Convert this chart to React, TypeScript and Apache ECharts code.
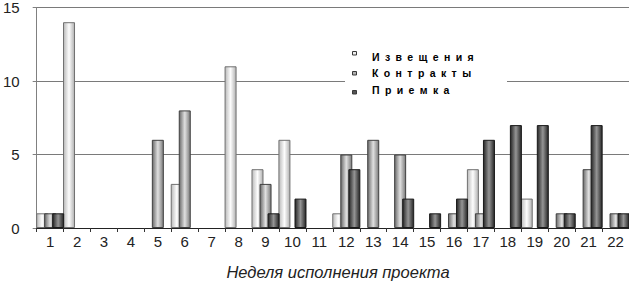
import React, { useEffect, useRef } from 'react';
import * as echarts from 'echarts';

const weeks = ['1','2','3','4','5','6','7','8','9','10','11','12','13','14','15','16','17','18','19','20','21','22'];
const notices = [1, 14, 0, 0, 0, 3, 0, 11, 4, 6, 0, 1, 0, 0, 0, 0, 4, 0, 2, 0, 0, 0];
const contracts = [1, 0, 0, 0, 6, 8, 0, 0, 3, 0, 0, 5, 6, 5, 0, 1, 1, 0, 0, 1, 4, 1];
const acceptance = [1, 0, 0, 0, 0, 0, 0, 0, 1, 2, 0, 4, 0, 2, 1, 2, 6, 7, 7, 1, 7, 1];
const seriesNames = ['Извещения', 'Контракты', 'Приемка'];
const yMin = 0;
const yMax = 15;
const yStep = 5;
const xTitle = 'Неделя исполнения проекта';

const FONT = 'Arial, "Liberation Sans", sans-serif';

function grad(l: string, c: string, r: string) {
  return new echarts.graphic.LinearGradient(0, 0, 1, 0, [
    { offset: 0, color: l },
    { offset: 0.5, color: c },
    { offset: 1, color: r },
  ]);
}

const styles = [
  { fill: () => grad('#bababa', '#fdfdfd', '#b0b0b0'), border: '#707070', swatch: '#eeeeee' },
  { fill: () => grad('#6a6a6a', '#e0e0e0', '#7a7a7a'), border: '#404040', swatch: '#b0b0b0' },
  { fill: () => grad('#262626', '#959595', '#262626'), border: '#1a1a1a', swatch: '#555555' },
];

export default function App() {
  const ref = useRef<HTMLDivElement>(null);

  useEffect(() => {
    if (!ref.current) return;
    const chart = echarts.init(ref.current, undefined, { renderer: 'svg' });
    const dataSets = [notices, contracts, acceptance];
    const legendY = [57, 73.3, 89.5];
    const swatchY = [51.5, 71.5, 90.5];

    chart.setOption({
      animation: false,
      backgroundColor: '#ffffff',
      grid: { left: 34, right: 0, top: 7, bottom: 54, containLabel: false },
      xAxis: {
        type: 'category',
        data: weeks,
        boundaryGap: true,
        axisLine: { show: true, lineStyle: { color: '#222', width: 1 } },
        axisTick: { show: true, length: 4, lineStyle: { color: '#333' } },
        axisLabel: { fontSize: 15, color: '#222', margin: 6, fontFamily: FONT, interval: 0 },
        splitLine: { show: false },
      },
      yAxis: {
        type: 'value',
        min: yMin,
        max: yMax,
        interval: yStep,
        axisLine: { show: true, lineStyle: { color: '#808080', width: 1 } },
        axisTick: { show: true, length: 4, lineStyle: { color: '#808080' } },
        axisLabel: { fontSize: 15, color: '#222', margin: 17, fontFamily: FONT },
        splitLine: { show: true, lineStyle: { color: '#7a7a7a', width: 1 } },
      },
      series: dataSets.map((d, i) => ({
        name: seriesNames[i],
        type: 'bar',
        data: d.map((v) => (v === 0 ? null : v)),
        barWidth: 12,
        barGap: '-33%',
        itemStyle: { color: styles[i].fill(), borderColor: styles[i].border, borderWidth: 1 },
        emphasis: { disabled: true },
      })),
      graphic: [
        {
          type: 'rect',
          left: 345,
          top: 47,
          shape: { width: 162, height: 52 },
          style: { fill: '#ffffff' },
          z: 100,
        },
        ...seriesNames.map((n, i) => ({
          type: 'rect',
          x: 352.5,
          y: swatchY[i],
          shape: { width: 4, height: 3.5 },
          style: { fill: styles[i].swatch, stroke: '#3a3a3a', lineWidth: 1 },
          z: 101,
        })),
        ...seriesNames.map((n, i) => ({
          type: 'text',
          x: 372,
          y: legendY[i],
          style: {
            text: n,
            fill: '#000',
            font: `bold 10.5px ${FONT}`,
            textAlign: 'left',
            textVerticalAlign: 'middle',
          },
          z: 101,
        })),
        {
          type: 'text',
          x: 338,
          y: 272,
          style: {
            text: xTitle,
            fill: '#222',
            font: `italic 16.5px ${FONT}`,
            textAlign: 'center',
            textVerticalAlign: 'middle',
          },
          z: 101,
        },
      ],
    });

    const applySpacing = () => {
      const root = ref.current;
      if (!root) return;
      root.querySelectorAll('text').forEach((t) => {
        if (seriesNames.includes((t.textContent || '').trim())) {
          t.setAttribute('letter-spacing', '5.4');
        }
      });
    };
    applySpacing();
    chart.on('finished', applySpacing);

    return () => {
      chart.dispose();
    };
  }, []);

  return (
    <div
      ref={ref}
      style={{ position: 'fixed', left: 0, top: 0, width: 629, height: 282, background: '#fff' }}
    />
  );
}
